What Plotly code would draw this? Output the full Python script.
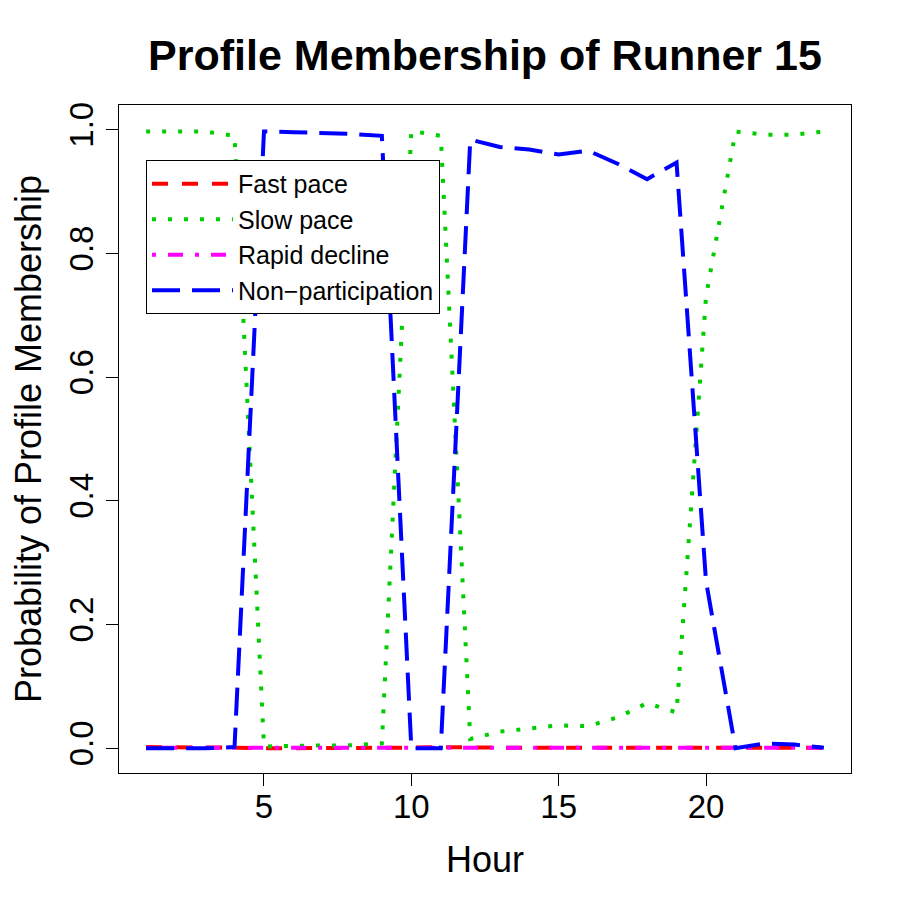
import plotly.graph_objects as go

hours = list(range(1, 25))
fast_pace = [0.002, 0.002, 0.001, 0.001, 0.000, 0.000, 0.000, 0.000, 0.001, 0.001, 0.002, 0.001,
             0.001, 0.001, 0.001, 0.001, 0.001, 0.001, 0.001, 0.001, 0.002, 0.002, 0.002, 0.001]
slow_pace = [0.997, 0.997, 0.997, 0.990, 0.003, 0.004, 0.004, 0.005, 0.008, 0.998, 0.990, 0.015,
             0.027, 0.032, 0.037, 0.036, 0.050, 0.073, 0.058, 0.730, 0.997, 0.992, 0.992, 0.997]
rapid_decline = [0.001, 0.001, 0.001, 0.001, 0.000, 0.000, 0.000, 0.000, 0.001, 0.001, 0.001, 0.001,
                 0.001, 0.001, 0.001, 0.001, 0.001, 0.001, 0.001, 0.001, 0.001, 0.001, 0.001, 0.001]
non_participation = [0.000, 0.000, 0.000, 0.002, 0.997, 0.996, 0.995, 0.993, 0.990, 0.000, 0.000, 0.984,
                     0.972, 0.968, 0.960, 0.966, 0.945, 0.920, 0.947, 0.270, 0.000, 0.008, 0.006, 0.001]

series = [
    ("Fast pace", fast_pace, "#FF0000", "16px,14px"),
    ("Slow pace", slow_pace, "#00CD00", "4px,12px"),
    ("Rapid decline", rapid_decline, "#FF00FF", "4px,12px,15px,12px"),
    ("Non\u2212participation", non_participation, "#0000FF", "28px,12px"),
]

x_ticks = [5, 10, 15, 20]
y_ticks = [0.0, 0.2, 0.4, 0.6, 0.8, 1.0]

FONT = "Liberation Sans, Arial, Helvetica, sans-serif"

fig = go.Figure()
for name, vals, color, dash in series:
    fig.add_trace(go.Scatter(x=hours, y=vals, mode="lines", name=name,
                             line=dict(color=color, width=4, dash=dash)))

fig.update_layout(
    width=905, height=905,
    margin=dict(l=111, r=62, t=97, b=140),
    paper_bgcolor="white", plot_bgcolor="white",
    font=dict(family=FONT, color="black"),
    title=dict(text="<b>Profile Membership of Runner 15</b>", x=477 / 905, xanchor="center",
               y=1 - 47 / 905, yanchor="middle", yref="container",
               font=dict(size=43, family=FONT, color="black")),
    showlegend=True,
    legend=dict(x=0.0369, y=0.9177, xanchor="left", yanchor="top",
                bordercolor="black", borderwidth=1, bgcolor="white",
                font=dict(size=25, family=FONT, color="black"),
                itemwidth=81, tracegroupgap=0),
)
fig.update_xaxes(range=[0.08, 24.92], tickvals=x_ticks, ticks="outside", ticklen=12,
                 tickcolor="black", showline=True, mirror=True, linecolor="black",
                 linewidth=1, showgrid=False, zeroline=False, ticklabelstandoff=-8,
                 tickfont=dict(size=33, family=FONT, color="black"),
                 title=dict(text="Hour", font=dict(size=36, family=FONT, color="black"),
                            standoff=23))
fig.update_yaxes(range=[-0.0399, 1.0399], tickvals=y_ticks, tickformat=".1f",
                 ticks="outside", ticklen=12, tickangle=-90,
                 tickcolor="black", showline=True, mirror=True, linecolor="black",
                 linewidth=1, showgrid=False, zeroline=False,
                 tickfont=dict(size=33, family=FONT, color="black"),
                 title=dict(text="Probability of Profile Membership",
                            font=dict(size=36, family=FONT, color="black"), standoff=11))

fig.write_html("out.html")
